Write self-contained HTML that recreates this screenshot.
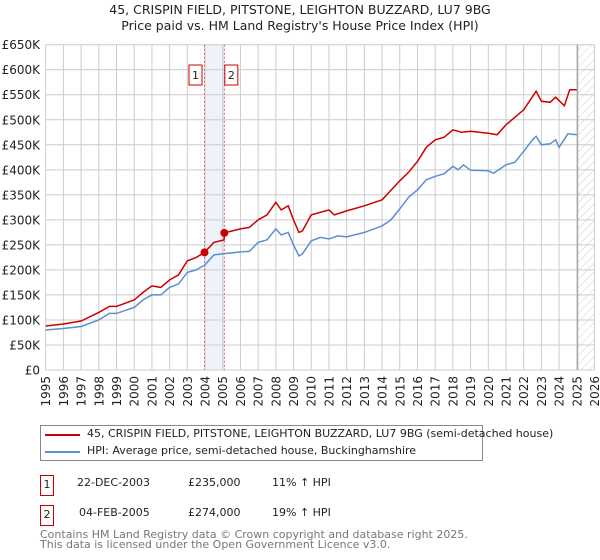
<!DOCTYPE html>
<html><head><meta charset="utf-8"><style>
body{margin:0;background:#fff;font-family:"DejaVu Sans","Liberation Sans",sans-serif;}
#wrap{position:relative;width:600px;height:560px;overflow:hidden}
</style></head><body>
<div id="wrap">
<svg id="chart" width="600" height="560" xmlns="http://www.w3.org/2000/svg" font-family="DejaVu Sans, Liberation Sans, sans-serif">
<defs><pattern id="hatch" width="6" height="6" patternUnits="userSpaceOnUse" patternTransform="rotate(45)"><line x1="0" y1="0" x2="0" y2="6" stroke="#ccc" stroke-width="1"/></pattern></defs>
<text x="300" y="14" text-anchor="middle" font-size="12.5" fill="#222">45, CRISPIN FIELD, PITSTONE, LEIGHTON BUZZARD, LU7 9BG</text>
<text x="300" y="30" text-anchor="middle" font-size="12.5" fill="#222">Price paid vs. HM Land Registry's House Price Index (HPI)</text>
<g id="grid"></g><g id="marks"></g><g id="axes"></g>
</svg>
<div style="position:absolute;left:40px;top:425px;width:443px;height:36px;border:1px solid #888;box-sizing:border-box;font-size:11px;color:#222;white-space:nowrap">
 <div style="position:absolute;left:4px;top:8px;width:35px;height:2px;background:#cc0000"></div>
 <div style="position:absolute;left:46px;top:1px">45, CRISPIN FIELD, PITSTONE, LEIGHTON BUZZARD, LU7 9BG (semi-detached house)</div>
 <div style="position:absolute;left:4px;top:25px;width:35px;height:2px;background:#5b8fd4"></div>
 <div style="position:absolute;left:46px;top:18px">HPI: Average price, semi-detached house, Buckinghamshire</div>
</div>
<div style="font-size:11px;color:#222">
 <div style="position:absolute;left:40px;top:475px;width:12px;height:19px;border:1px solid #c00;text-align:center;line-height:18px">1</div>
 <div style="position:absolute;left:77px;top:476px">22-DEC-2003</div>
 <div style="position:absolute;left:188px;top:476px">£235,000</div>
 <div style="position:absolute;left:272px;top:476px">11% ↑ HPI</div>
 <div style="position:absolute;left:40px;top:505px;width:12px;height:19px;border:1px solid #c00;text-align:center;line-height:18px">2</div>
 <div style="position:absolute;left:79px;top:506px">04-FEB-2005</div>
 <div style="position:absolute;left:188px;top:506px">£274,000</div>
 <div style="position:absolute;left:272px;top:506px">19% ↑ HPI</div>
</div>
<div style="position:absolute;left:40px;top:530px;font-size:11px;color:#777;line-height:10px">Contains HM Land Registry data © Crown copyright and database right 2025.<br>This data is licensed under the Open Government Licence v3.0.</div>
</div>
<script>
const hpiYears=[1995,1996,1997,1998,1998.6,1999,2000,2000.5,2001,2001.5,2002,2002.5,2003,2003.5,2004,2004.5,2005,2006,2006.5,2007,2007.5,2008,2008.3,2008.7,2009,2009.3,2009.5,2010,2010.5,2011,2011.5,2012,2013,2014,2014.5,2015,2015.5,2016,2016.5,2017,2017.5,2018,2018.3,2018.6,2019,2020,2020.3,2021,2021.5,2022,2022.5,2022.7,2023,2023.5,2023.8,2024,2024.5,2025];
const hpiValues=[80,83,87,100,113,113,125,140,150,150,165,172,195,200,210,230,232,236,237,255,260,282,270,275,250,228,232,258,265,262,268,266,275,288,300,322,345,360,380,387,392,407,400,410,399,398,393,410,415,437,460,467,450,452,460,445,472,470];
const priceYears=[1995,1996,1997,1998,1998.6,1999,2000,2000.5,2001,2001.5,2002,2002.5,2003,2003.5,2003.97,2004.5,2005.08,2005.09,2006,2006.5,2007,2007.5,2008,2008.3,2008.7,2009,2009.3,2009.5,2010,2010.5,2011,2011.3,2012,2013,2014,2015,2015.5,2016,2016.5,2017,2017.5,2018,2018.5,2019,2020,2020.5,2021,2022,2022.7,2023,2023.5,2023.8,2024.3,2024.6,2025];
const priceValues=[88,92,98,115,127,127,140,155,168,165,180,190,218,225,235,255,260,274,282,285,300,310,335,320,328,300,275,278,310,315,320,310,318,328,340,378,395,417,445,460,465,480,475,477,473,470,490,520,557,537,535,545,528,560,560];
const saleYears=[2003.97,2005.09];
const saleValues=[235,274];
const saleLabels=["1","2"];
const yTicks=[0,50,100,150,200,250,300,350,400,450,500,550,600,650];
const yTickLabels=["£0","£50K","£100K","£150K","£200K","£250K","£300K","£350K","£400K","£450K","£500K","£550K","£600K","£650K"];
const xTicks=[1995,1996,1997,1998,1999,2000,2001,2002,2003,2004,2005,2006,2007,2008,2009,2010,2011,2012,2013,2014,2015,2016,2017,2018,2019,2020,2021,2022,2023,2024,2025,2026];
const dataEnd=2025.05;

const L=45.7,R=594.5,T=44.7,B=370;
const X=y=>L+(y-1995)/(2026-1995)*(R-L);
const Y=v=>B-v/650*(B-T);
const NS="http://www.w3.org/2000/svg";
function mk(tag,attrs,parent){const e=document.createElementNS(NS,tag);for(const k in attrs)e.setAttribute(k,attrs[k]);parent.appendChild(e);return e;}
const grid=document.getElementById('grid'),marks=document.getElementById('marks'),axes=document.getElementById('axes');

const band=mk('rect',{x:X(saleYears[0]),y:T,width:X(saleYears[1])-X(saleYears[0]),height:B-T,fill:'#eef3fb'},grid);


const hatch=mk('rect',{x:X(dataEnd),y:T,width:R-X(dataEnd),height:B-T,fill:'url(#hatch)'},grid);



yTicks.forEach((v,i)=>{
 const ln=mk('line',{x1:L,x2:R,y1:Y(v),y2:Y(v),stroke:'#ccc','stroke-width':1},grid);
 
 
 const t=mk('text',{x:40,y:Y(v)+4.5,'text-anchor':'end','font-size':12,fill:'#222'},axes);
 t.textContent=yTickLabels[i];
 
 
});
xTicks.forEach(yr=>{
 const ln=mk('line',{x1:X(yr),x2:X(yr),y1:T,y2:B,stroke:'#ccc','stroke-width':1},grid);
 
 
 const t=mk('text',{x:0,y:0,'text-anchor':'end','font-size':12,fill:'#222',transform:`translate(${X(yr)+4.5},376) rotate(-90)`},axes);
 t.textContent=yr;
 
 
});
const endLine=mk('line',{x1:X(dataEnd),x2:X(dataEnd),y1:T,y2:B,stroke:'#999','stroke-width':1},grid);



saleYears.forEach((yr,i)=>{
 const d=mk('line',{x1:X(yr),x2:X(yr),y1:T,y2:B,stroke:'#e06060','stroke-width':1,'stroke-dasharray':'2,2'},marks);
 
 
 const bx=X(yr)+(i===0?-9:7)-6.5;
 const r=mk('rect',{x:bx,y:65,width:13,height:20,fill:'#fff',stroke:'#c00','stroke-width':1},marks);
 
 
 const t=mk('text',{x:bx+6.5,y:79,'text-anchor':'middle','font-size':11,fill:'#222'},marks);
 t.textContent=saleLabels[i];
 
 
});

function path(xs,vs){return xs.map((x,i)=>(i?'L':'M')+X(x).toFixed(1)+','+Y(vs[i]).toFixed(1)).join(' ');}
const hp=mk('path',{d:path(hpiYears,hpiValues),fill:'none',stroke:'#5b8fd4','stroke-width':1.5},marks);


const pp=mk('path',{d:path(priceYears,priceValues),fill:'none',stroke:'#cc0000','stroke-width':1.5},marks);


saleYears.forEach((yr,i)=>{
 const c=mk('circle',{cx:X(yr),cy:Y(saleValues[i]),r:4,fill:'#cc0000'},marks);
 
 
});
</script>
</body></html>
